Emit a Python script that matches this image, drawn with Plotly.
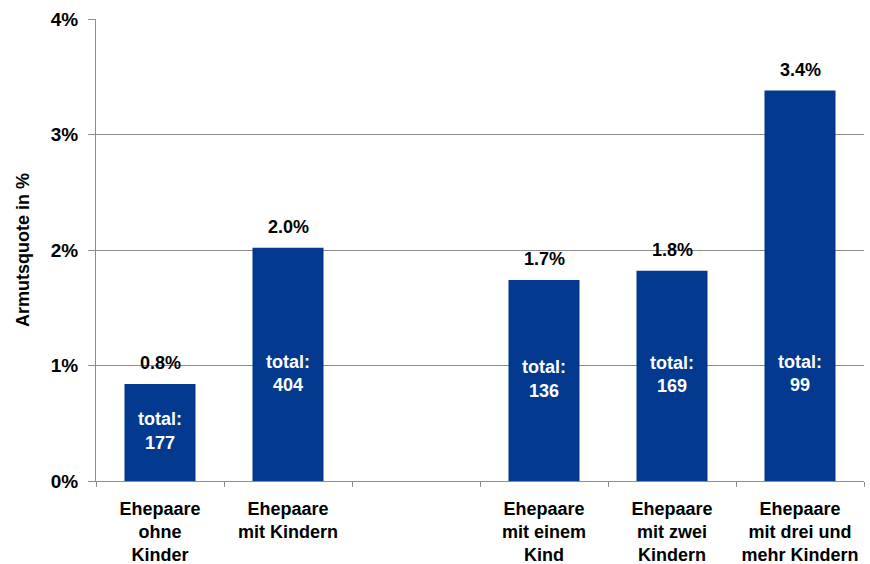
import plotly.graph_objects as go

# Armutsquote nach Haushaltstyp (Ehepaare)
categories = [
    "Ehepaare<br>ohne<br>Kinder",
    "Ehepaare<br>mit Kindern",
    " ",
    "Ehepaare<br>mit einem<br>Kind",
    "Ehepaare<br>mit zwei<br>Kindern",
    "Ehepaare<br>mit drei und<br>mehr Kindern",
]
rates = [0.84, 2.02, None, 1.74, 1.82, 3.38]
totals = [177, 404, None, 136, 169, 99]

BLUE = "#033a8f"
GRID = "#8e8e8e"
FONT = "Liberation Sans, Arial, sans-serif"

fig = go.Figure()

fig.add_trace(go.Bar(
    x=categories,
    y=rates,
    marker=dict(color=BLUE, line=dict(width=0)),
    hoverinfo="skip",
))

# "total: n" labels inside the bars
lx, ly, lt = [], [], []
for c, r, n in zip(categories, rates, totals):
    if r is None:
        continue
    lx.append(c)
    ly.append(min(r / 2, 0.92))
    lt.append(f"<b>total:<br>{n}</b>")
fig.add_trace(go.Scatter(
    x=lx, y=ly, text=lt, mode="text",
    textposition="middle center",
    textfont=dict(family=FONT, size=18, color="#ffffff"),
    hoverinfo="skip",
))

# percentage labels above the bars
for c, r in zip(categories, rates):
    if r is None:
        continue
    fig.add_annotation(
        x=c, y=r, xref="x", yref="y",
        text=f"<b>{r:.1f}%</b>",
        showarrow=False,
        yanchor="bottom",
        yshift=9,
        font=dict(family=FONT, size=18, color="#000000"),
    )

fig.update_layout(
    width=870, height=564,
    margin=dict(l=96, r=6, t=19, b=83),
    paper_bgcolor="#ffffff",
    plot_bgcolor="#ffffff",
    showlegend=False,
    bargap=0.445,
    font=dict(family=FONT, size=15, color="#000000"),
)

fig.update_xaxes(
    type="category",
    categoryorder="array",
    categoryarray=categories,
    tickson="boundaries",
    ticks="outside",
    ticklen=5,
    tickcolor=GRID,
    showline=True,
    linecolor=GRID,
    linewidth=1,
    showgrid=False,
    tickfont=dict(family=FONT, size=18, color="#000000", weight="bold"),
    ticklabelstandoff=11,
    automargin=False,
)

fig.update_yaxes(
    range=[0, 4],
    dtick=1,
    ticksuffix="%",
    ticks="outside",
    ticklen=7,
    tickcolor=GRID,
    showline=True,
    linecolor=GRID,
    showgrid=True,
    gridcolor=GRID,
    gridwidth=1,
    zeroline=False,
    tickfont=dict(family=FONT, size=19, color="#000000", weight="bold"),
    ticklabelstandoff=6,
    title=dict(text="<b>Armutsquote in %</b>", font=dict(family=FONT, size=18), standoff=16),
    automargin=False,
)

fig.write_html("out.html")
